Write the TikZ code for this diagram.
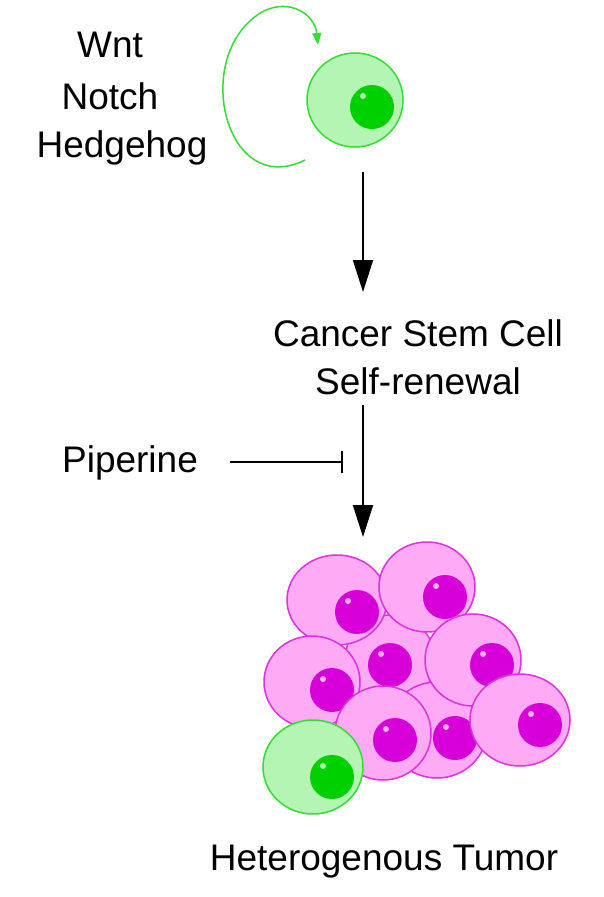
\documentclass[tikz,border=0pt]{standalone}
\usepackage{fontspec}
\setmainfont{Liberation Sans}
\usetikzlibrary{arrows.meta}
\definecolor{gfill}{HTML}{B4F5B4}
\definecolor{gline}{HTML}{33DD33}
\definecolor{gnuc}{HTML}{00D000}
\definecolor{pfill}{HTML}{FFAAF5}
\definecolor{pline}{HTML}{E030E0}
\definecolor{pnuc}{HTML}{D800D8}
\tikzset{
 txt/.style={font=\fontsize{37}{40}\selectfont,inner sep=0pt},
 arr/.style={line width=1.8pt,-{Triangle[length=32pt,width=20pt]}},
}
\newcommand{\pcell}[6]{%
 \fill[pfill,draw=pline,line width=1.5pt] (#1,#2) ellipse [x radius=#3,y radius=#4];
 \fill[pnuc] (#5,#6) circle (22);
 \fill[white,opacity=.7] (#5-9,#6-11) circle (3);}
\newcommand{\gcell}[6]{%
 \fill[gfill,draw=gline,line width=1.5pt] (#1,#2) ellipse [x radius=#3,y radius=#4];
 \fill[gnuc] (#5,#6) circle (22);
 \fill[white,opacity=.7] (#5-9,#6-11) circle (3);}
\begin{document}
\begin{tikzpicture}[x=1pt,y=-1pt]
\useasboundingbox (0,0) rectangle (603,897);
% top cell
\gcell{355}{100}{48}{47}{372}{107}
\coordinate (ls) at (305,160);
\coordinate (le) at (318,45);
\draw[gline,line width=1.5pt,-{Triangle[length=12pt,width=9pt]}] (ls) .. controls (225,200) and (190,55) .. (262,12) .. controls (290,-3) and (315,15) .. (le);
\node[txt] (wnt) at (110,45) {Wnt};
\node[txt] (notch) at (110,96) {Notch};
\node[txt] (hh) at (122,148) {Hedgehog};
\coordinate (a1s) at (363,172);
\node[txt] (csc) at (418,333) {Cancer Stem Cell};
\node[txt] (sr) at (418,381) {Self-renewal};
\draw[arr] (a1s) -- (363,292);
\coordinate (a2s) at (363,405);
\coordinate (a2e) at (363,537);
\draw[arr] (a2s) -- (a2e);
\node[txt] (pip) at (130,463) {Piperine};
\coordinate (bar) at (343,462);
\draw[line width=1.4pt,-{Bar[width=22pt,line width=2pt]}] (230,462) -- (bar);
% tumor
\pcell{390}{660}{45}{45}{390}{665}
\pcell{437}{730}{50}{48}{455}{738}
\pcell{337}{600}{50}{45}{357}{612}
\pcell{427}{587}{48}{45}{445}{597}
\pcell{473}{660}{48}{46}{492}{665}
\pcell{312}{682}{48}{46}{332}{690}
\pcell{383}{733}{48}{47}{395}{740}
\pcell{520}{720}{50}{46}{540}{725}
\gcell{313}{767}{50}{47}{332}{777}
\node[txt] (ht) at (384,862) {Heterogenous Tumor};
\end{tikzpicture}
\end{document}
